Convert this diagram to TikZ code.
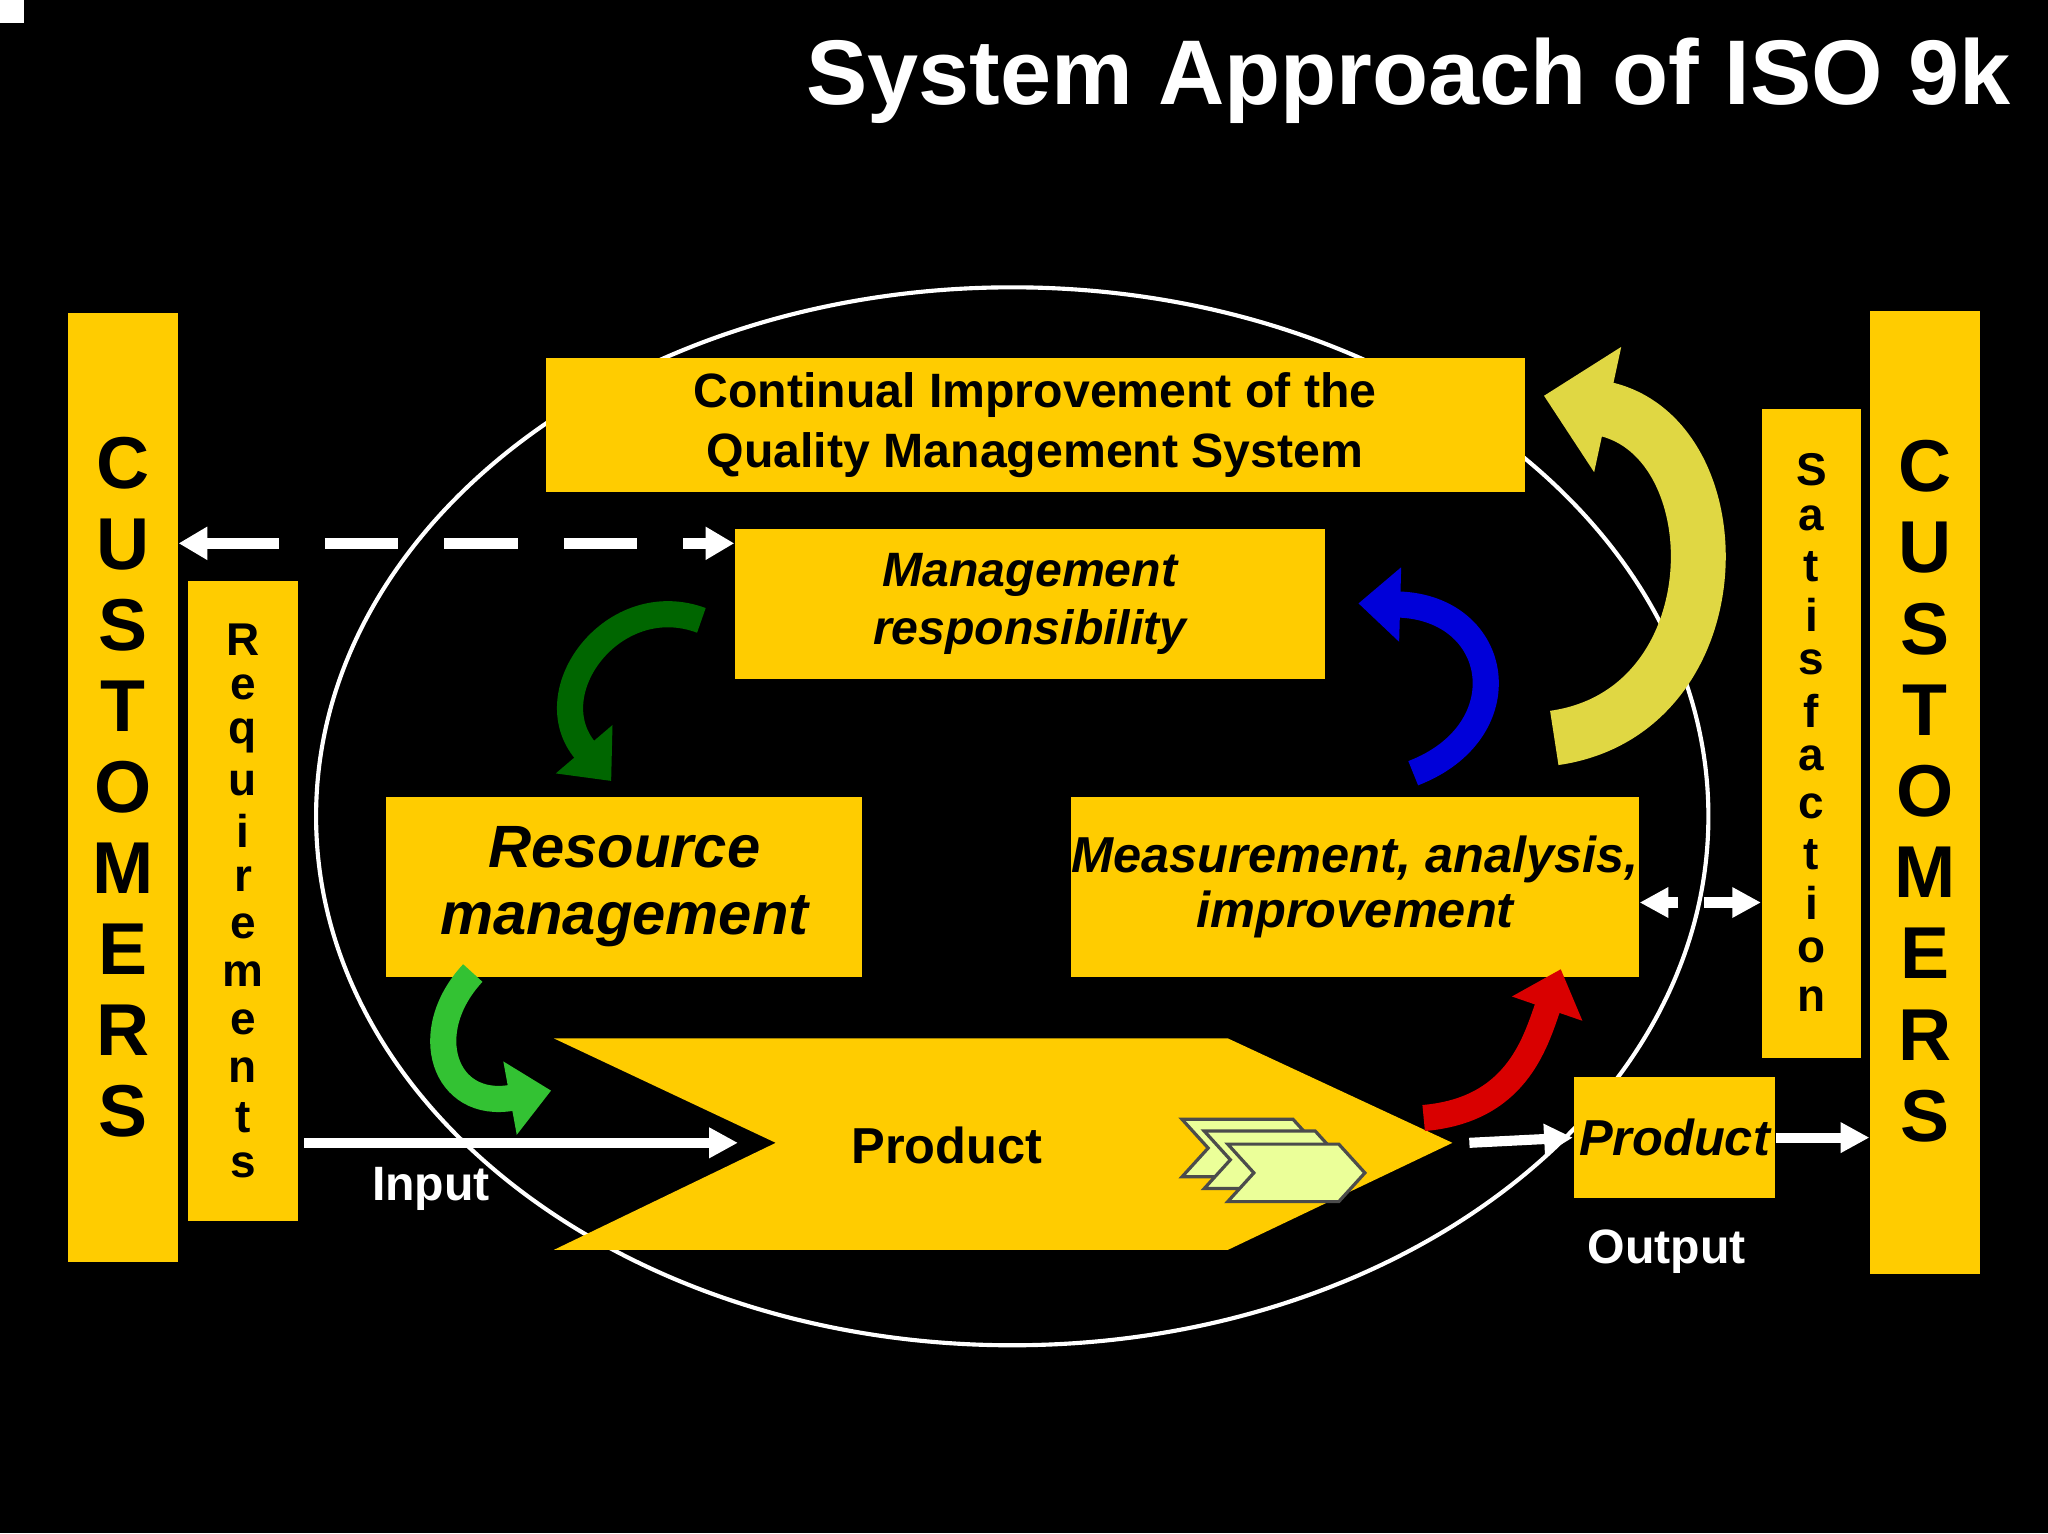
\documentclass[tikz,border=0pt]{standalone}
\usepackage{fontspec}
\setmainfont{Liberation Sans}
\usetikzlibrary{arrows.meta}
\definecolor{gold}{HTML}{FFCC00}
\tikzset{
  box/.style={fill=gold, inner sep=0pt, align=center, font=\bfseries},
  letter/.style={font=\bfseries\fontsize{#1}{#1}\selectfont, inner sep=0pt},
  wline/.style={white, line width=2.2pt, -{Triangle[length=0.22cm,width=0.22cm]}},
  curv/.style={line width=0.2cm, -{Triangle[length=0.32cm,width=0.55cm]}},
}
\begin{document}
\begin{tikzpicture}[x=0.01cm,y=-0.01cm]
  \fill[black] (0,0) rectangle (1568,1174);
  \useasboundingbox (0,0) rectangle (1568,1174);
  \fill[white] (0,0) rectangle (18,18);
  \node[anchor=east, white, font=\bfseries\fontsize{20}{24}\selectfont] (title) at (1552,62) {System Approach of ISO 9k};
  % ellipse
  \draw[white, line width=0.9pt] (775,625) ellipse [x radius=533, y radius=405];
  % customer bars
  \node[fill=gold, minimum width=0.84cm, minimum height=7.26cm] (custL) at (94,603) {};
  \node[fill=gold, minimum width=0.84cm, minimum height=7.37cm] (custR) at (1474,606.5) {};
  \node[fill=gold, minimum width=0.84cm, minimum height=4.90cm] (req) at (186,690) {};
  \node[fill=gold, minimum width=0.76cm, minimum height=4.97cm] (sat) at (1387,561.5) {};
  \foreach \c [count=\i] in {C,U,S,T,O,M,E,R,S}{
    \node[letter=16] (cl\i) at (94,{355+62*(\i-1)}) {\c};
    \node[letter=16] (cr\i) at (1474,{357+62.2*(\i-1)}) {\c};
  }
  \foreach \c [count=\i] in {R,e,q,u,i,r,e,m,e,n,t,s}
    \node[letter=10] (rq\i) at (186,{490+36.6*(\i-1)}) {\c};
  \foreach \c [count=\i] in {S,a,t,i,s,f,a,c,t,i,o,n}
    \node[letter=10] (st\i) at (1387,{360+36.8*(\i-1)}) {\c};
  % process boxes
  \node[box, minimum width=7.49cm, minimum height=1.03cm, font=\bfseries\fontsize{10.5}{13}\selectfont] (cont) at (792.5,325.5) {Continual Improvement of the\\Quality Management System};
  \node[box, minimum width=4.51cm, minimum height=1.15cm, font=\bfseries\itshape\fontsize{10.5}{12.5}\selectfont] (mgmt) at (788.5,462.5) {Management\\responsibility};
  \node[box, minimum width=3.64cm, minimum height=1.38cm, font=\bfseries\itshape\fontsize{13}{14.5}\selectfont] (res) at (478,679) {Resource\\management};
  \node[box, minimum width=3.99cm, minimum height=1.38cm, font=\bfseries\itshape\fontsize{11}{12}\selectfont] (meas) at (1037.5,679) {Measurement, analysis,\\improvement};
  \node[box, minimum width=1.54cm, minimum height=0.92cm, font=\bfseries\itshape\fontsize{11}{13}\selectfont] (outp) at (1282,871) {Product};
  % product arrow
  \fill[gold] (424,795) -- (940,795) -- (1112,875) -- (940,957) -- (424,957) -- (594,875) -- cycle;
  \node[font=\bfseries\fontsize{11}{13}\selectfont] (prod) at (725,877) {Product};
  \coordinate (pin) at (565,875);
  \coordinate (ptip) at (1112,875);
  \foreach \x/\y in {905/857, 922/866, 940/876}
    \draw[fill=green!20!yellow!40, draw=black!70, line width=0.7pt] (\x,\y) -- ++(85,0) -- ++(20,22) -- ++(-20,22) -- ++(-85,0) -- ++(20,-22) -- cycle;
  % labels
  \node[white, font=\bfseries\fontsize{10.5}{13}\selectfont] (inl) at (330,910) {Input};
  \node[white, font=\bfseries\fontsize{10.5}{13}\selectfont] (outl) at (1276,958) {Output};
  % straight connectors
  \coordinate (instart) at (233,875);
  \draw[wline] (instart) -- (pin);
  \draw[wline] (ptip) ++(13,0) coordinate (pt2) -- (outp.west);
  \draw[wline] (outp.east) -- (custR.west |- outp.east);
  \draw[white, line width=2.5pt, dash pattern=on 16pt off 10pt, {Triangle[length=0.22cm,width=0.24cm]}-{Triangle[length=0.22cm,width=0.24cm]}] (custL.east |- 0,416) -- (mgmt.west |- 0,416);
  \coordinate (gapL) at (1285,691);
  \coordinate (gapR) at (1305,691);
  \draw[wline] (gapL) -- (meas.east |- gapL);
  \draw[wline] (gapR) -- (sat.west |- gapR);
  % curved arrows
  \draw[curv, green!40!black] (537,475) .. controls (470,450) and (410,530) .. (468,598);
  \draw[curv, green!70!black!80!white] (362,745) .. controls (320,790) and (340,850) .. (422,835);
  \draw[curv, blue!85!black] (1082,592) .. controls (1165,560) and (1150,465) .. (1040,462);
  \draw[curv, red!85!black] (1090,856) .. controls (1160,850) and (1175,800) .. (1195,742);
  \draw[line width=0.42cm, yellow!60!olive!70!white, -{Triangle[length=0.5cm,width=0.95cm]}] (1190,565) .. controls (1330,545) and (1330,335) .. (1182,303);
\end{tikzpicture}
\end{document}
